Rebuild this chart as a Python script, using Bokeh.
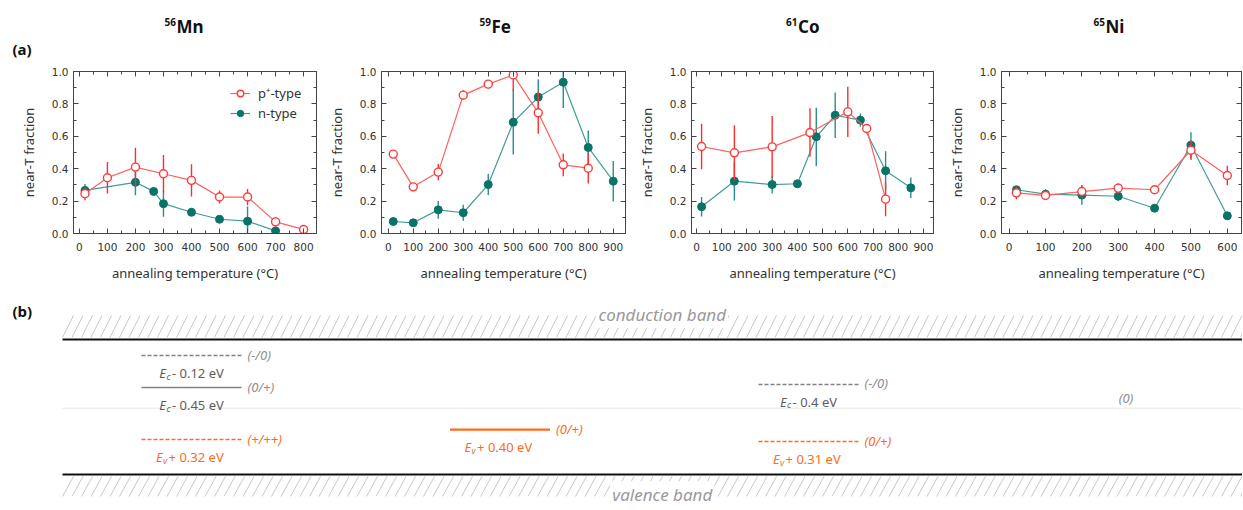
import numpy as np
from bokeh.plotting import figure
from bokeh.layouts import row, column
from bokeh.models import (Label, LinearAxis, FixedTicker, NumeralTickFormatter,
                          CustomJSTickFormatter, Legend, LegendItem, ColumnDataSource, Range1d)
from bokeh.core.properties import value
from bokeh.embed import file_html
from bokeh.resources import INLINE

# ---------------- data ----------------
# 56Mn
mn_p_T = [20, 100, 200, 300, 400, 500, 600, 700, 800]
mn_p_f = [0.246, 0.344, 0.410, 0.369, 0.328, 0.225, 0.225, 0.072, 0.025]
mn_p_e = [0.040, 0.097, 0.120, 0.115, 0.100, 0.040, 0.050, 0.030, 0.015]
mn_n_T = [20, 200, 265, 300, 400, 500, 600, 700]
mn_n_f = [0.266, 0.316, 0.260, 0.184, 0.131, 0.088, 0.076, 0.016]
mn_n_e = [0.040, 0.080, 0.010, 0.080, 0.010, 0.010, 0.090, 0.010]
# 59Fe
fe_p_T = [20, 100, 200, 300, 400, 500, 600, 700, 800]
fe_p_f = [0.490, 0.288, 0.379, 0.854, 0.922, 0.979, 0.745, 0.424, 0.403]
fe_p_e = [0.015, 0.010, 0.050, 0.030, 0.020, 0.100, 0.130, 0.070, 0.095]
fe_n_T = [20, 100, 200, 300, 400, 500, 600, 700, 800, 900]
fe_n_f = [0.074, 0.066, 0.146, 0.128, 0.302, 0.687, 0.842, 0.934, 0.531, 0.323]
fe_n_e = [0.015, 0.010, 0.055, 0.050, 0.065, 0.200, 0.110, 0.160, 0.105, 0.125]
# 61Co
co_p_T = [20, 150, 300, 450, 600, 675, 750]
co_p_f = [0.537, 0.498, 0.535, 0.623, 0.751, 0.648, 0.212]
co_p_e = [0.140, 0.170, 0.190, 0.150, 0.155, 0.010, 0.105]
co_n_T = [20, 150, 300, 400, 475, 550, 650, 750, 850]
co_n_f = [0.165, 0.323, 0.302, 0.307, 0.597, 0.730, 0.700, 0.387, 0.282]
co_n_e = [0.060, 0.120, 0.055, 0.010, 0.180, 0.140, 0.040, 0.120, 0.063]
# 65Ni
ni_p_T = [20, 100, 200, 300, 400, 500, 600]
ni_p_f = [0.251, 0.235, 0.259, 0.280, 0.270, 0.514, 0.358]
ni_p_e = [0.040, 0.010, 0.040, 0.030, 0.010, 0.060, 0.060]
ni_n_T = [20, 100, 200, 300, 400, 500, 600]
ni_n_f = [0.270, 0.243, 0.237, 0.230, 0.156, 0.545, 0.109]
ni_n_e = [0.020, 0.030, 0.060, 0.030, 0.010, 0.080, 0.025]

elements = ["Mn", "Fe", "Co", "Ni"]
masses = ["56", "59", "61", "65"]
series_labels = ["p\u207a-type", "n-type"]
y_ticks = [0.0, 0.2, 0.4, 0.6, 0.8, 1.0]

# (b) band diagram: schematic levels (position in gap: 0 = E_v, 1 = E_c)
lvl_elem = [0, 0, 0, 1, 2, 2]
lvl_pos = [0.881, 0.644, 0.259, 0.333, 0.667, 0.244]
lvl_ref = ["c", "c", "v", "v", "c", "v"]
lvl_txt = ["- 0.12 eV", "- 0.45 eV", " + 0.32 eV", " + 0.40 eV", "- 0.4 eV", " + 0.31 eV"]
lvl_charge = ["(-/0)", "(0/+)", "(+/++)", "(0/+)", "(-/0)", "(0/+)"]
lvl_dashed = [True, False, True, False, True, True]
ni_charge = "(0)"
ni_pos = 0.563

# ---------------- styles ----------------
RED_LINE = "#ff5f5f"
RED_ERR = "#ff2e2e"
RED_MK = "#ff3a3a"
TEAL_LINE = "#439c97"
TEAL_ERR = "#2b8e89"
TEAL_MK = "#0a7367"
AX = "#444444"
TXT = "#333333"
GRAY = "#828282"
GRAY_TXT = "#5e5e5e"
CH_GRAY = "#8e8e8e"
ORANGE = "#ff6b1c"
FONT = "Noto Sans"
TOTAL_W = 1242
STRIP_H = 60
PANEL_H = 235


def style_axis(ax, labels=True):
    ax.axis_line_color = AX
    ax.axis_line_width = 1
    ax.major_tick_line_color = AX
    ax.minor_tick_line_color = AX
    ax.major_tick_in = 5
    ax.major_tick_out = 0
    ax.minor_tick_in = 3
    ax.minor_tick_out = 0
    if labels:
        ax.major_label_text_font = "DejaVu Sans"
        ax.major_label_text_font_size = "10.5px"
        ax.major_label_text_color = TXT
        ax.axis_label_text_font = FONT
        ax.axis_label_text_font_size = "13px"
        ax.axis_label_text_font_style = "normal"
        ax.axis_label_text_color = TXT
    else:
        ax.formatter = CustomJSTickFormatter(code="return ''")
        ax.major_label_text_font_size = "0px"
        ax.major_label_standoff = 0


def make_panel(pT, pf, pe, nT, nf, ne, xr, xmax, width, bl, br, legend=False):
    p = figure(width=width, height=PANEL_H, x_range=Range1d(*xr), y_range=Range1d(0, 1),
               output_backend="svg", toolbar_location=None,
               x_axis_location=None, y_axis_location=None,
               min_border_left=bl, min_border_right=br,
               min_border_top=11, min_border_bottom=62)
    p.outline_line_color = None
    p.border_fill_color = "white"
    p.background_fill_color = "white"
    xt = FixedTicker(ticks=list(range(0, xmax + 1, 100)),
                     minor_ticks=list(range(0, xmax + 51, 50)))
    yt = FixedTicker(ticks=y_ticks, minor_ticks=[round(0.1 * k, 1) for k in range(11)])

    bottom = LinearAxis(ticker=xt, axis_label="annealing temperature (\u00b0C)")
    style_axis(bottom)
    bottom.major_label_standoff = 9
    bottom.axis_label_standoff = 10
    left = LinearAxis(ticker=yt, axis_label="near-T fraction",
                      formatter=NumeralTickFormatter(format="0.0"))
    style_axis(left)
    left.major_label_standoff = 5
    left.axis_label_standoff = 11
    top = LinearAxis(ticker=xt)
    style_axis(top, labels=False)
    right = LinearAxis(ticker=yt)
    style_axis(right, labels=False)
    p.add_layout(bottom, "below")
    p.add_layout(left, "left")
    p.add_layout(top, "above")
    p.add_layout(right, "right")
    p.xgrid.visible = False
    p.ygrid.visible = False

    ns = ColumnDataSource(dict(T=nT, f=nf, lo=np.array(nf) - np.array(ne), hi=np.array(nf) + np.array(ne)))
    ps = ColumnDataSource(dict(T=pT, f=pf, lo=np.array(pf) - np.array(pe), hi=np.array(pf) + np.array(pe)))

    n_line = p.line("T", "f", source=ns, line_color=TEAL_LINE, line_width=1.2)
    p.segment(x0="T", y0="lo", x1="T", y1="hi", source=ns, line_color=TEAL_ERR, line_width=1.4)
    n_mk = p.scatter("T", "f", source=ns, marker="circle", size=8,
                     fill_color=TEAL_MK, line_color=TEAL_MK, line_width=1)
    p_line = p.line("T", "f", source=ps, line_color=RED_LINE, line_width=1.2)
    p.segment(x0="T", y0="lo", x1="T", y1="hi", source=ps, line_color=RED_ERR, line_width=1.4)
    p_mk = p.scatter("T", "f", source=ps, marker="circle", size=8,
                     fill_color="white", line_color=RED_MK, line_width=1.4)

    if legend:
        lg = Legend(items=[LegendItem(label=series_labels[0], renderers=[p_line, p_mk]),
                           LegendItem(label=series_labels[1], renderers=[n_line, n_mk])],
                    location=(157, 111), padding=0, margin=0, spacing=2,
                    glyph_height=16, glyph_width=20, label_height=16, label_standoff=8,
                    border_line_color=None, background_fill_alpha=0,
                    label_text_font=FONT, label_text_font_size="13px", label_text_color=TXT)
        p.add_layout(lg)
    return p


p1 = make_panel(mn_p_T, mn_p_f, mn_p_e, mn_n_T, mn_n_f, mn_n_e, (-21, 846), 800, 318, 73, 2, legend=True)
p2 = make_panel(fe_p_T, fe_p_f, fe_p_e, fe_n_T, fe_n_f, fe_n_e, (-27, 949), 900, 310, 63, 3)
p3 = make_panel(co_p_T, co_p_f, co_p_e, co_n_T, co_n_f, co_n_e, (-20, 940), 900, 309, 63, 4)
p4 = make_panel(ni_p_T, ni_p_f, ni_p_e, ni_n_T, ni_n_f, ni_n_e, (-21, 639), 600, 305, 64, 1)

# ---------------- title strip: isotope names and "(a)" ----------------
pt = figure(width=TOTAL_W, height=STRIP_H, x_range=Range1d(0, TOTAL_W), y_range=Range1d(STRIP_H, 0),
            output_backend="svg", toolbar_location=None, x_axis_location=None, y_axis_location=None,
            min_border_left=0, min_border_right=0, min_border_top=0, min_border_bottom=0)
pt.outline_line_color = None
pt.xgrid.visible = False
pt.ygrid.visible = False
title_joint = [175.5, 490.5, 797.0, 1104.5]   # where superscript meets symbol (px)
pt.text(x=title_joint, y=[21] * 4, text=masses, text_font=value(FONT), text_font_size="10px",
        text_font_style="bold", text_color="#111111", text_align="right", text_baseline="alphabetic")
pt.text(x=[j + 0.5 for j in title_joint], y=[26] * 4, text=elements, text_font=value(FONT),
        text_font_size="17px", text_font_style="bold", text_color="#111111",
        text_align="left", text_baseline="alphabetic")
pt.text(x=[12], y=[48], text=["(a)"], text_font=value(FONT), text_font_size="15px",
        text_font_style="bold", text_color="#111111", text_align="left", text_baseline="middle")

# ---------------- (b) band diagram ----------------
BW, BH = TOTAL_W, 213
XPX = 308.5   # px per element slot
YPX = 135.0   # px per band gap
x0r = -191.0 / XPX
y0r = -0.252
pb = figure(width=BW, height=BH, x_range=Range1d(x0r, x0r + BW / XPX),
            y_range=Range1d(y0r, y0r + BH / YPX), output_backend="svg", toolbar_location=None,
            x_axis_location=None, y_axis_location=None,
            min_border_left=0, min_border_right=0, min_border_top=0, min_border_bottom=0)
pb.outline_line_color = None
pb.xgrid.visible = False
pb.ygrid.visible = False

xl = 62 / XPX + x0r
xr_ = x0r + BW / XPX + 0.05
# hatching
step = 9.5 / XPX
slant = 11.0 / XPX
hx = np.arange(xl, xr_, step)
for yb, yt_ in [(1.015, 1.178), (-0.163, -0.015)]:
    pb.segment(x0=hx, y0=np.full_like(hx, yb), x1=hx + slant, y1=np.full_like(hx, yt_),
               line_color="#c9c9c9", line_width=1)
# midgap faint line
pb.segment(x0=[xl], y0=[0.49], x1=[xr_], y1=[0.49], line_color="#efefef", line_width=1.5)
# band edges
pb.segment(x0=[xl, xl], y0=[1.0, 0.0], x1=[xr_, xr_], y1=[1.0, 0.0], line_color="#111111", line_width=2.2)

pb.add_layout(Label(x=1.5, y=1.185, x_offset=8, text="conduction band", text_align="center",
                    text_baseline="middle", text_font=FONT, text_font_size="17px",
                    text_font_style="italic", text_color="#9a9a9a",
                    background_fill_color="white", padding=2))
pb.add_layout(Label(x=1.5, y=-0.15, x_offset=8, text="valence band", text_align="center",
                    text_baseline="middle", text_font=FONT, text_font_size="17px",
                    text_font_style="italic", text_color="#9a9a9a",
                    background_fill_color="white", padding=2))
pb.add_layout(Label(x=12, y=198, x_units="screen", y_units="screen", text="(b)", text_align="left",
                    text_baseline="middle", text_font=FONT, text_font_size="15px",
                    text_font_style="bold", text_color="#111111"))

HW = 50.0 / XPX
CW = {'0': .57, '1': .57, '2': .57, '3': .57, '4': .57, '5': .57, '.': .27, ' ': .26,
      '-': .32, '+': .57, 'e': .56, 'V': .60}


def tw(s, size):
    return sum(CW.get(ch, .55) for ch in s) * size


for dashed in (True, False):
    for ref, col in (("c", GRAY), ("v", ORANGE)):
        idx = [k for k in range(len(lvl_elem)) if lvl_dashed[k] == dashed and lvl_ref[k] == ref]
        if not idx:
            continue
        xs = np.array([lvl_elem[k] for k in idx], dtype=float)
        ys = np.array([lvl_pos[k] for k in idx])
        kw = dict(line_dash="4 2") if dashed else {}
        lw = 1.6 if dashed else (1.6 if ref == "c" else 2.2)
        pb.segment(x0=xs - HW, y0=ys, x1=xs + HW, y1=ys, line_color=col, line_width=lw, **kw)

# level labels: E (italic) + subscript + value
E_SZ, S_SZ, R_SZ = 13, 9, 13
rows = dict(x=[], y=[], t=[], xo=[], yo=[], c=[])
subs = dict(x=[], y=[], t=[], xo=[], yo=[], c=[])
rest = dict(x=[], y=[], t=[], xo=[], yo=[], c=[])
chg = dict(x=[], y=[], t=[], c=[])
for k in range(len(lvl_elem)):
    col = GRAY_TXT if lvl_ref[k] == "c" else ORANGE
    wE, wS, wR = 0.62 * E_SZ, 0.5 * S_SZ, tw(lvl_txt[k], R_SZ)
    start = -(wE + wS + wR) / 2
    for d, t, xo, yo in ((rows, "E", start, 17.5), (subs, lvl_ref[k], start + wE - 1, 20.5),
                         (rest, lvl_txt[k], start + wE + wS, 17.5)):
        d["x"].append(lvl_elem[k]); d["y"].append(lvl_pos[k]); d["t"].append(t)
        d["xo"].append(xo); d["yo"].append(yo); d["c"].append(col)
    chg["x"].append(lvl_elem[k] + HW); chg["y"].append(lvl_pos[k]); chg["t"].append(lvl_charge[k])
    chg["c"].append(CH_GRAY if lvl_ref[k] == "c" else ORANGE)

pb.text(x="x", y="y", text="t", x_offset="xo", y_offset="yo", text_color="c",
        source=ColumnDataSource(rows), text_font=value(FONT), text_font_size="13px",
        text_font_style="italic", text_align="left", text_baseline="alphabetic")
pb.text(x="x", y="y", text="t", x_offset="xo", y_offset="yo", text_color="c",
        source=ColumnDataSource(subs), text_font=value(FONT), text_font_size="9px",
        text_font_style="italic", text_align="left", text_baseline="alphabetic")
pb.text(x="x", y="y", text="t", x_offset="xo", y_offset="yo", text_color="c",
        source=ColumnDataSource(rest), text_font=value(FONT), text_font_size="13px",
        text_align="left", text_baseline="alphabetic")
pb.text(x="x", y="y", text="t", x_offset=6, y_offset=-1, text_color="c",
        source=ColumnDataSource(chg), text_font=value(FONT), text_font_size="13px",
        text_font_style="italic", text_align="left", text_baseline="middle")
pb.text(x=[3], y=[ni_pos], text=[ni_charge], x_offset=9, text_color=CH_GRAY, text_font=value(FONT),
        text_font_size="13px", text_font_style="italic", text_align="center", text_baseline="middle")

layout = column(pt, row(p1, p2, p3, p4, spacing=0), pb, spacing=0)
open("out.html", "w").write(file_html(layout, INLINE))
